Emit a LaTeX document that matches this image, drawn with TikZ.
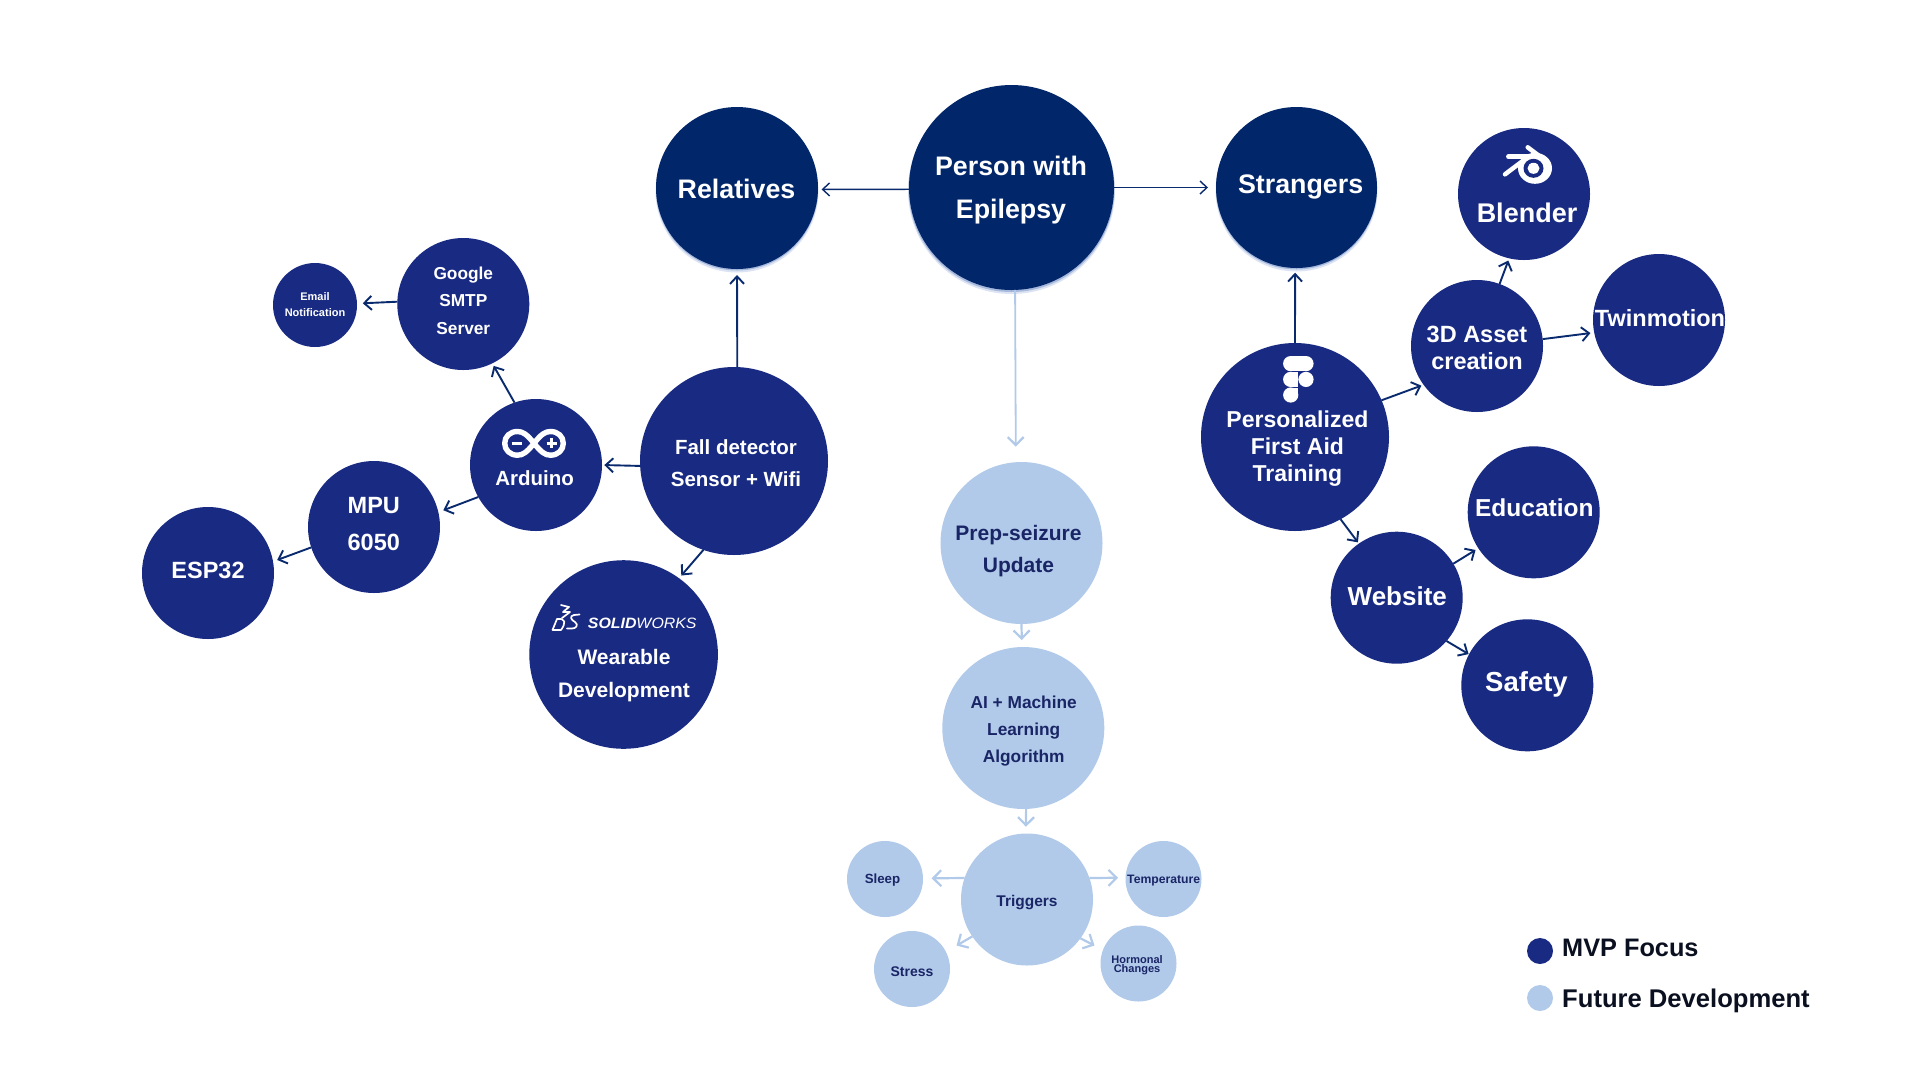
\documentclass[tikz,border=0pt]{standalone}
\usepackage{fontspec}
\setmainfont{Liberation Sans}
\usetikzlibrary{arrows.meta}
\definecolor{mvp}{HTML}{192A82}
\definecolor{core}{HTML}{02266A}
\definecolor{future}{HTML}{B1CAEA}
\definecolor{arrowdark}{HTML}{0A2A6E}
\definecolor{inkdark}{HTML}{1A2566}
\definecolor{legendink}{HTML}{0B1020}
\definecolor{glowa}{HTML}{DCE4F3}
\definecolor{glowb}{HTML}{A6B8DC}
\tikzset{
  x=1pt,y=-1pt,
  bub/.style={circle,inner sep=0pt,outer sep=0pt,minimum size=#1*2pt},
  mvpb/.style={bub=#1,fill=mvp},
  coreb/.style={bub=#1,fill=core},
  futb/.style={bub=#1,fill=future},
  gla/.style={bub=#1,fill=glowa},
  glb/.style={bub=#1,fill=glowb},
  fs/.style 2 args={font=\bfseries\fontsize{#1}{#2}\selectfont},
  wtxt/.style={text=white,align=center,inner sep=0pt,anchor=base},
  dtxt/.style={text=inkdark,align=center,inner sep=0pt,anchor=base},
  ltxt/.style={text=legendink,inner sep=0pt,anchor=base west},
  gap/.style={shorten >=#1pt},
  conn/.style={draw=arrowdark,line width=1.9pt,-{Straight Barb[length=7.5pt,width=14pt,line width=1.9pt]}},
  thinconn/.style={draw=arrowdark,line width=1.4pt,-{Straight Barb[length=7pt,width=13pt,line width=1.4pt]}},
  fconn/.style={draw=future,line width=2.2pt,-{Straight Barb[length=8pt,width=16pt,line width=2.2pt]}},
  icon/.style={fill=white,draw=none},
  iconline/.style={draw=white,line cap=round,line join=round},
}
\begin{document}
\begin{tikzpicture}
\useasboundingbox[fill=white] (0,0) rectangle (1920,1080);
% glow under the three top circles
\node[gla=103.5] (personGa) at (1011.5,190.5) {};
\node[glb=103] (personGb) at (1011.5,189) {};
\node[gla=81.5] (relativesGa) at (737,191) {};
\node[glb=81] (relativesGb) at (737,189.5) {};
\node[gla=81] (strangersGa) at (1296.5,190.5) {};
\node[glb=80.5] (strangersGb) at (1296.5,189) {};
% circles
\node[coreb=102.5] (person) at (1011.5,187.5) {};
\node[coreb=81] (relatives) at (737,188) {};
\node[coreb=80.5] (strangers) at (1296.5,187.5) {};
\node[mvpb=94] (fall) at (734,461) {};
\node[mvpb=66] (arduino) at (536,465) {};
\node[mvpb=66] (google) at (463.3,304) {};
\node[mvpb=42] (email) at (315,305) {};
\node[mvpb=66] (mpu) at (374,527) {};
\node[mvpb=66] (esp) at (208,573) {};
\node[mvpb=94.3] (solid) at (623.6,654.5) {};
\node[mvpb=94] (pers) at (1295,437) {};
\node[mvpb=66] (asset) at (1477,346) {};
\node[mvpb=66] (blender) at (1524,194) {};
\node[mvpb=66] (twin) at (1659,320) {};
\node[mvpb=66] (website) at (1396.7,597.7) {};
\node[mvpb=66] (education) at (1533.7,512.3) {};
\node[mvpb=66] (safety) at (1527.3,685.3) {};
\node[futb=81] (prep) at (1021.5,543) {};
\node[futb=81] (ai) at (1023.3,728) {};
\node[futb=66] (trig) at (1027,899.5) {};
\node[futb=38] (sleep) at (885,879) {};
\node[futb=38] (temp) at (1163.5,879) {};
\node[futb=38] (stress) at (912,969) {};
\node[futb=38] (horm) at (1138.5,963.5) {};
% connectors
\draw[thinconn,gap=3.6] (person.181.4) -- (relatives.-1.4);
\draw[thinconn,gap=8] (person.0) -- (strangers.180);
\draw[fconn,line width=1.8pt,gap=15.6] (person.-88) -- (prep.94.6);
\draw[fconn,gap=7] (prep.-90) -- (ai.91.4);
\draw[fconn,gap=6.8] (ai.-88.8) -- (trig.91.7);
\draw[fconn,gap=8.7] (trig.161) -- (sleep.1.5);
\draw[fconn,gap=7.5] (trig.19) -- (temp.178.5);
\draw[fconn,gap=12.4] (trig.214) -- (stress.27.5);
\draw[fconn,gap=9.6] (trig.-36) -- (horm.159.3);
\draw[conn,gap=6] (fall.88.35) -- (relatives.-90);
\draw[conn,gap=2.3] (fall.183) -- (arduino.-0.9);
\draw[conn,gap=3.5] (fall.251) -- (solid.54.6);
\draw[conn,gap=2.9] (arduino.109.9) -- (google.-64.2);
\draw[conn,gap=5.4] (arduino.209.5) -- (mpu.13.8);
\draw[conn,gap=5.8] (google.178.3) -- (email.2);
\draw[conn,gap=4.5] (mpu.198.2) -- (esp.10.6);
\draw[conn,gap=4.7] (pers.90) -- (strangers.-91.3);
\draw[conn,gap=2.4] (pers.23.4) -- (asset.216.5);
\draw[conn,gap=2.4] (asset.70) -- (blender.257.3);
\draw[conn,gap=3.8] (asset.6.8) -- (twin.191.8);
\draw[conn,gap=1.6] (pers.-61.7) -- (website.125.6);
\draw[conn,gap=3.3] (website.31.6) -- (education.213.6);
\draw[conn,gap=0.5] (website.-41.1) -- (safety.152.8);
% labels (position = last baseline)
\node[wtxt,fs={26.8}{42.5}] (personT) at (1011,218.3) {Person with\\Epilepsy};
\node[wtxt,fs={26.8}{32}] (relativesT) at (736.5,198) {Relatives};
\node[wtxt,fs={26.8}{32}] (strangersT) at (1300.6,193) {Strangers};
\node[wtxt,fs={20.5}{32.7}] (fallT) at (736,486.7) {Fall detector\\Sensor + Wifi};
\node[wtxt,fs={20.5}{25}] (arduinoT) at (534.7,485) {Arduino};
\node[wtxt,fs={17.3}{27.5}] (googleT) at (463.3,334) {Google\\SMTP\\Server};
\node[wtxt,fs={11}{16.7}] (emailT) at (315,316.7) {Email\\Notification};
\node[wtxt,fs={23.5}{37.3}] (mpuT) at (373.8,550.3) {MPU\\6050};
\node[wtxt,fs={23.5}{28}] (espT) at (208,578) {ESP32};
\node[wtxt,fs={21}{33}] (solidT) at (624,697.3) {Wearable\\Development};
\node[wtxt,fs={23}{27}] (persT) at (1297.4,481.7) {Personalized\\First Aid\\Training};
\node[wtxt,fs={23.5}{27}] (assetT) at (1477,369) {3D Asset\\creation};
\node[wtxt,fs={27}{30}] (blenderT) at (1527,222) {Blender};
\node[wtxt,fs={23.5}{30}] (twinT) at (1660,326.7) {Twinmotion};
\node[wtxt,fs={26}{30}] (websiteT) at (1397.3,605) {Website};
\node[wtxt,fs={24.5}{30}] (educationT) at (1534.3,516) {Education};
\node[wtxt,fs={27.5}{30}] (safetyT) at (1526.5,691.7) {Safety};
\node[dtxt,fs={21}{32.7}] (prepT) at (1018.5,572.7) {Prep-seizure\\Update};
\node[dtxt,fs={17.3}{27.2}] (aiT) at (1023.7,762.7) {AI + Machine\\Learning\\Algorithm};
\node[dtxt,fs={15.5}{20}] (trigT) at (1027,906) {Triggers};
\node[dtxt,fs={13.3}{16}] (sleepT) at (882.5,883.3) {Sleep};
\node[dtxt,fs={12.2}{16}] (tempT) at (1163.7,883.3) {Temperature};
\node[dtxt,fs={14}{16}] (stressT) at (912,976) {Stress};
\node[dtxt,fs={11}{9}] (hormT) at (1137,972.7) {Hormonal\\Changes};
% SolidWorks wordmark
\node[text=white,inner sep=0pt,anchor=base west] (swT) at (587.7,628.3) {\scalebox{1.06}[1]{\fontsize{15}{16}\selectfont\bfseries\itshape SOLID\mdseries WORKS}};
% 3DS mark
\begin{scope}[iconline,line width=1.7pt]
\draw (561,605) -- (569,607) -- (563,612) -- (570,612) -- (562,618);
\draw (552.5,630) -- (557,619) .. controls (566,618) and (566,623) .. (561,630) -- cycle;
\draw (579.5,614.5) -- (574,615) .. controls (569,616) and (571,620) .. (575,622) .. controls (579,625) and (576,628.5) .. (572,628.5) -- (567,628.5);
\end{scope}
% Arduino mark
\begin{scope}[iconline,line width=5.4pt]
\draw (534,443.3) .. controls (527,434.5) and (523,431.5) .. (517.5,431.5) .. controls (510,431.5) and (504.7,436.5) .. (504.7,443.3) .. controls (504.7,450) and (510,455.2) .. (517.5,455.2) .. controls (523,455.2) and (527,452) .. (534,443.3) .. controls (541,434.5) and (545,431.5) .. (550.5,431.5) .. controls (558,431.5) and (563.3,436.5) .. (563.3,443.3) .. controls (563.3,450) and (558,455.2) .. (550.5,455.2) .. controls (545,455.2) and (541,452) .. (534,443.3) -- cycle;
\end{scope}
\draw[iconline,line width=2.6pt,line cap=butt] (511.7,443.3) -- (521.7,443.3);
\draw[iconline,line width=2.6pt,line cap=butt] (546.7,443.3) -- (556.7,443.3);
\draw[iconline,line width=2.6pt,line cap=butt] (551.7,438.3) -- (551.7,448.3);
% Blender mark
\fill[icon] (1535,168.3) ellipse [x radius=17pt,y radius=15.5pt];
\fill[mvp] (1533.5,168.3) ellipse [x radius=10pt,y radius=9.5pt];
\fill[icon] (1533.5,168.3) ellipse [x radius=6pt,y radius=5.5pt];
\draw[iconline,line width=4.5pt] (1527.7,147.3) -- (1544,159.5);
\draw[iconline,line width=4.5pt] (1508.3,156.7) -- (1530,156.7);
\draw[iconline,line width=4.5pt] (1505,174.3) -- (1524,160);
% Figma mark
\fill[icon] (1290.7,363.6) circle[radius=7.6pt];
\fill[icon] (1290.7,356) rectangle (1298.3,371.2);
\fill[icon] (1306,363.6) circle[radius=7.6pt];
\fill[icon] (1298.3,356) rectangle (1306,371.2);
\fill[icon] (1290.7,379.4) circle[radius=7.6pt];
\fill[icon] (1290.7,371.8) rectangle (1298.3,387);
\fill[icon] (1306,379.4) circle[radius=7.6pt];
\fill[icon] (1290.7,395) circle[radius=7.6pt];
\fill[icon] (1290.7,387.5) rectangle (1298.3,395);
% legend
\node[bub=13,fill=mvp] (legA) at (1540,951) {};
\node[bub=13,fill=future] (legB) at (1540,998) {};
\node[ltxt,fs={25.3}{30}] (legAT) at (1562,956.7) {MVP Focus};
\node[ltxt,fs={25.6}{30}] (legBT) at (1562,1007) {Future Development};
\end{tikzpicture}
\end{document}
